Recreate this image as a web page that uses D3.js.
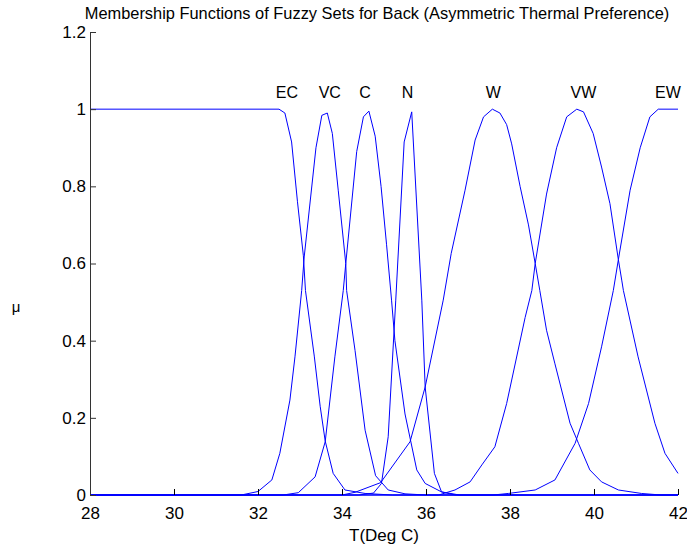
<!DOCTYPE html>
<html>
<head>
<meta charset="utf-8">
<script src="https://cdn.jsdelivr.net/npm/d3@7"></script>
<style>
  body { margin: 0; background: #fff; }
  text { font-family: "Liberation Sans", Arial, sans-serif; fill: #000; }
</style>
</head>
<body>
<div id="chart"></div>
<script>
// Chart size
const width = 687;
const height = 547;

// Tick values
const xTicks = [28, 30, 32, 34, 36, 38, 40, 42];
const yTicks = [0, 0.2, 0.4, 0.6, 0.8, 1, 1.2];

// Fuzzy set names and where their labels sit (T value)
const setNames = ['EC', 'VC', 'C', 'N', 'W', 'VW', 'EW'];
const labelT = [32.69, 33.71, 34.55, 35.56, 37.6, 39.75, 41.76];

// Membership curves, [T, mu] pairs
const ecPts = [[28, 1], [32.5, 1], [32.64, 0.99], [32.8, 0.915], [32.94, 0.76], [33.08, 0.62], [33.13, 0.53],
    [33.34, 0.36], [33.48, 0.23], [33.6, 0.14], [33.79, 0.056], [34.07, 0.013], [34.55, 0.004], [35.2, 0], [42, 0]];
const vcPts = [[28, 0], [31.6, 0], [32.0, 0.009], [32.33, 0.039], [32.52, 0.108], [32.76, 0.246], [32.88, 0.358],
    [33.04, 0.53], [33.1, 0.617], [33.38, 0.9], [33.52, 0.984], [33.65, 0.99], [33.77, 0.937], [33.91, 0.79],
    [34.09, 0.6], [34.11, 0.53], [34.31, 0.375], [34.55, 0.168], [34.8, 0.05], [35.1, 0.013], [35.5, 0.003], [36, 0], [42, 0]];
const cPts = [[28, 0], [32.6, 0], [32.96, 0.006], [33.36, 0.047], [33.6, 0.138], [33.83, 0.358], [34.03, 0.53],
    [34.09, 0.6], [34.35, 0.89], [34.51, 0.98], [34.64, 0.995], [34.79, 0.93], [34.93, 0.8], [35.06, 0.65],
    [35.18, 0.505], [35.26, 0.4], [35.5, 0.21], [35.78, 0.065], [35.98, 0.03], [36.37, 0.008], [36.8, 0], [42, 0]];
const nPts = [[28, 0], [34.4, 0], [34.75, 0.005], [34.94, 0.03], [35.1, 0.151], [35.28, 0.505], [35.48, 0.915],
    [35.66, 0.993], [35.9, 0.505], [35.98, 0.28], [36.2, 0.056], [36.37, 0.008], [36.7, 0], [42, 0]];
const wPts = [[28, 0], [34.0, 0], [34.31, 0.007], [34.92, 0.032], [35.62, 0.138], [35.98, 0.28], [36.41, 0.505],
    [36.6, 0.626], [36.93, 0.79], [37.17, 0.92], [37.37, 0.98], [37.58, 1.0], [37.76, 0.99], [37.92, 0.96],
    [38.04, 0.91], [38.24, 0.8], [38.44, 0.7], [38.6, 0.6], [38.71, 0.53], [38.87, 0.427], [39.07, 0.34],
    [39.43, 0.186], [39.63, 0.134], [39.9, 0.065], [40.18, 0.034], [40.58, 0.013], [41.13, 0.004], [41.6, 0], [42, 0]];
const vwPts = [[28, 0], [36.3, 0], [36.69, 0.013], [37.05, 0.034], [37.33, 0.078], [37.64, 0.125], [37.92, 0.237],
    [38.36, 0.46], [38.52, 0.53], [38.6, 0.6], [38.87, 0.78], [39.11, 0.9], [39.35, 0.98], [39.59, 1.0],
    [39.75, 0.993], [39.98, 0.937], [40.18, 0.85], [40.38, 0.755], [40.58, 0.61], [40.66, 0.557], [40.7, 0.53],
    [41.05, 0.358], [41.45, 0.186], [41.69, 0.108], [42, 0.056]];
const ewPts = [[28, 0], [37.6, 0], [37.96, 0.004], [38.6, 0.013], [39.07, 0.039], [39.55, 0.134], [39.87, 0.237],
    [40.18, 0.384], [40.46, 0.53], [40.58, 0.61], [40.86, 0.79], [41.1, 0.9], [41.33, 0.98], [41.53, 1.0], [42, 1.0]];

const curves = [ecPts, vcPts, cPts, nPts, wPts, vwPts, ewPts];

// Plot area
const plotLeft = 90, plotRight = 678, plotTop = 32, plotBottom = 495;

const svg = d3.select('#chart')
    .append('svg')
    .attr('width', width)
    .attr('height', height);

const x = d3.scaleLinear().domain([28, 42]).range([plotLeft, plotRight]);
const y = d3.scaleLinear().domain([0, 1.2]).range([plotBottom, plotTop]);

// Curves
const line = d3.line()
    .x(d => x(d[0]))
    .y(d => y(d[1]));

svg.append('g')
    .selectAll('path')
    .data(curves)
    .join('path')
    .attr('d', line)
    .attr('fill', 'none')
    .attr('stroke', '#0000ff')
    .attr('stroke-width', 1);

// Axes (ticks point inward, MATLAB style)
const fmt = d3.format('~g');

svg.append('g')
    .attr('transform', `translate(0,${plotBottom})`)
    .call(d3.axisBottom(x).tickValues(xTicks).tickFormat(fmt)
        .tickSizeInner(-6).tickSizeOuter(0).tickPadding(12))
    .call(g => g.selectAll('text').attr('font-size', 17))
    .call(g => g.select('.domain').remove());

svg.append('g')
    .attr('transform', `translate(${plotLeft},0)`)
    .call(d3.axisLeft(y).tickValues(yTicks).tickFormat(fmt)
        .tickSizeInner(-6).tickSizeOuter(0).tickPadding(4))
    .call(g => g.selectAll('text').attr('font-size', 17))
    .call(g => g.select('.domain').attr('stroke', '#333'))
    .call(g => g.selectAll('.tick line').attr('stroke', '#333'));

svg.selectAll('.tick text').attr('font-family', '"Liberation Sans", Arial, sans-serif');

// Set labels above the peaks
svg.append('g')
    .selectAll('text')
    .data(setNames)
    .join('text')
    .attr('x', (d, i) => x(labelT[i]))
    .attr('y', y(1.03))
    .attr('text-anchor', 'middle')
    .attr('font-size', 16)
    .text(d => d);

// Title and axis labels
svg.append('text')
    .attr('x', 377)
    .attr('y', 19)
    .attr('text-anchor', 'middle')
    .attr('font-size', 16.4)
    .text('Membership Functions of Fuzzy Sets for Back (Asymmetric Thermal Preference)');

svg.append('text')
    .attr('x', (plotLeft + plotRight) / 2)
    .attr('y', 541)
    .attr('text-anchor', 'middle')
    .attr('font-size', 17)
    .text('T(Deg C)');

svg.append('text')
    .attr('x', 16)
    .attr('y', 312)
    .attr('text-anchor', 'middle')
    .attr('font-size', 15)
    .text('μ');
</script>
</body>
</html>
